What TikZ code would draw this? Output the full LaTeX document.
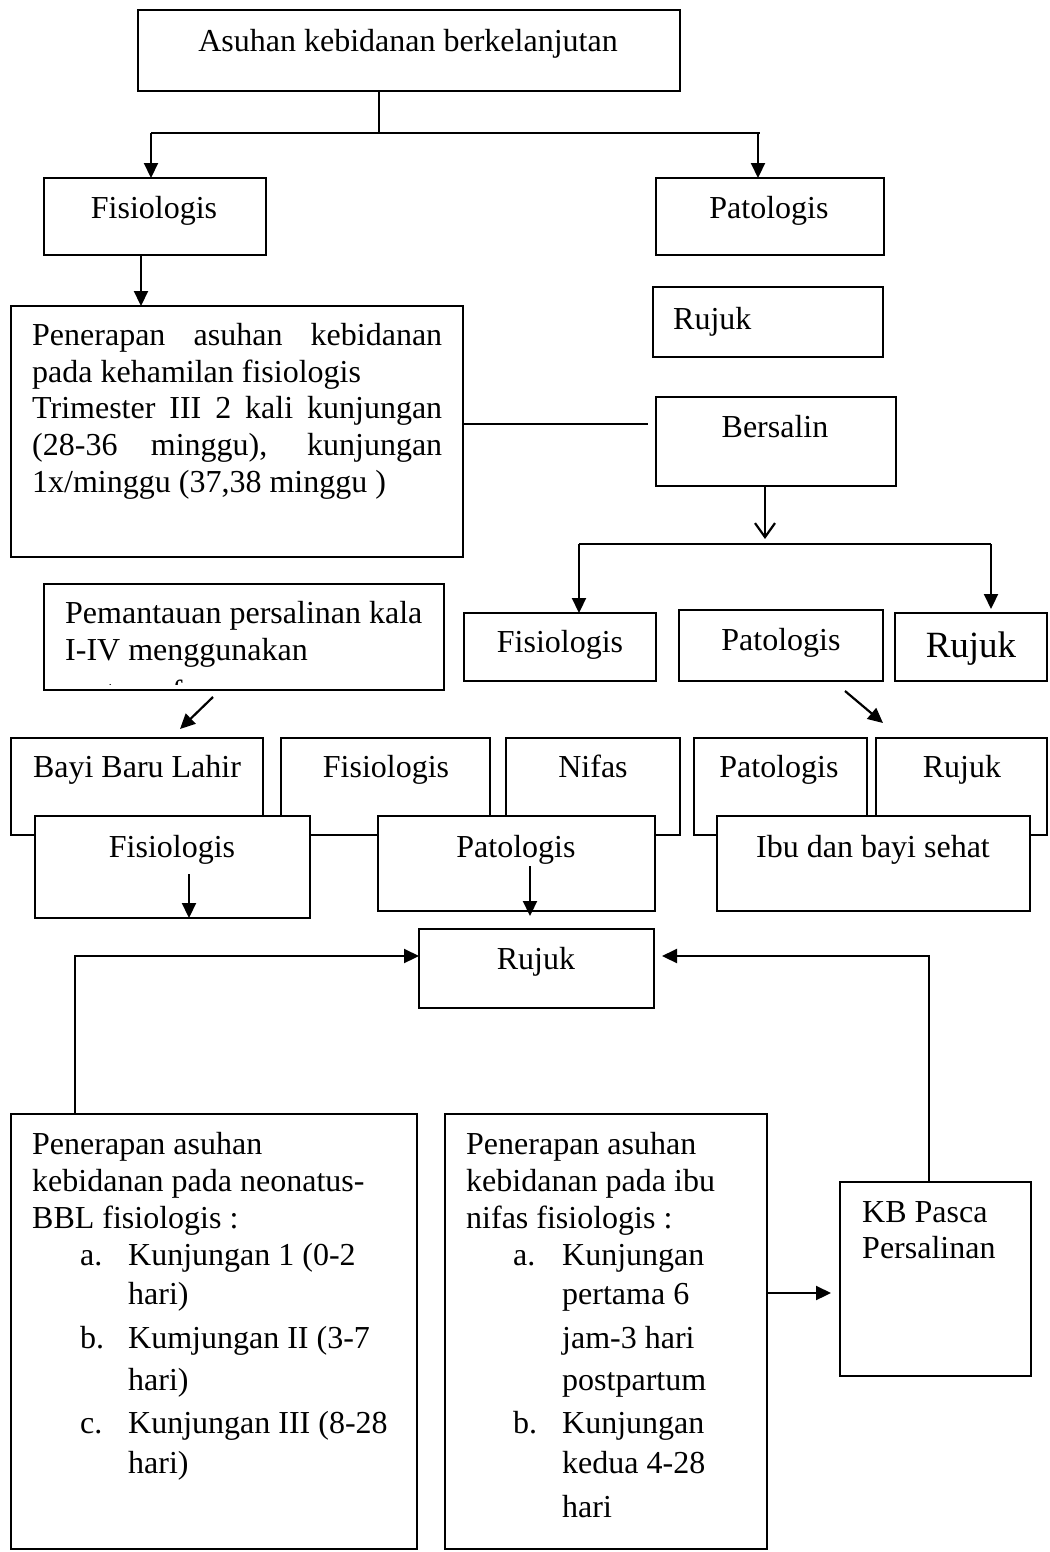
\documentclass[tikz,border=0pt]{standalone}
\usepackage{fontspec}
\setmainfont{Liberation Serif}
\usetikzlibrary{arrows.meta}
\newcommand\mybox[5]{\node[bx, minimum width={(#4-#2)*1pt}, minimum height={(#5-#3)*1pt}] (#1) at (#2,#3) {};}
\tikzset{
  bx/.style={draw, line width=2.2pt, fill=white, inner sep=0pt, outer sep=0pt, anchor=north west},
  ln/.style={line width=2.2pt},
  arr/.style={line width=2.2pt, -{Triangle[length=15pt,width=14pt]}},
  oarr/.style={line width=2.2pt, -{Straight Barb[length=14pt,width=20pt,line width=2.2pt]}},
  txt/.style={inner sep=0pt, anchor=base},
  txtl/.style={inner sep=0pt, anchor=base west}
}
\begin{document}
\begin{tikzpicture}[x=1pt, y=-1pt, font=\fontsize{32}{38}\selectfont]
\useasboundingbox (0,0) rectangle (1049,1552);
\fill[white] (0,0) rectangle (1049,1552);

% top section
\mybox{top}{138}{10}{680}{91}
\node[txt] (ttop) at (408,52) {Asuhan kebidanan berkelanjutan};
\mybox{fisA}{44}{178}{266}{255}
\node[txt] (tfisA) at (154,218) {Fisiologis};
\mybox{patA}{656}{178}{884}{255}
\node[txt] (tpatA) at (769,218) {Patologis};

\coordinate (s1) at (379,133);
\coordinate (s1l) at (151,133);
\coordinate (s1r) at (760,133);
\draw[ln] (379,0 |- top.south) -- (s1);
\draw[ln] (s1l) -- (s1r);
\draw[arr] (s1l) -- (151,0 |- fisA.north);
\draw[arr] (758,133) -- (758,0 |- patA.north);

% big box
\mybox{big}{11}{306}{463}{557}
\draw[arr] (141,0 |- fisA.south) -- (141,0 |- big.north);
\node[txtl] (b1) at (32,345) {\makebox[410pt][s]{Penerapan asuhan kebidanan}};
\node[txtl] (b2) at (32,382) {pada kehamilan fisiologis};
\node[txtl] (b3) at (32,418) {\makebox[410pt][s]{Trimester III 2 kali kunjungan}};
\node[txtl] (b4) at (32,455) {\makebox[410pt][s]{(28-36 minggu), kunjungan}};
\node[txtl] (b5) at (32,492) {1x/minggu (37,38 minggu )};

\mybox{rujA}{653}{287}{883}{357}
\node[txtl] (trujA) at (673,329) {Rujuk};
\mybox{bers}{656}{397}{896}{486}
\node[txt] (tbers) at (775,437) {Bersalin};
\coordinate (bersend) at (648,424);
\draw[ln] (big.east |- bersend) -- (bersend);

% bersalin split
\coordinate (s2) at (765,539);
\coordinate (s2l) at (579,544);
\coordinate (s2r) at (991,544);
\draw[oarr] (765,0 |- bers.south) -- (s2);
\draw[ln] (s2l) -- (s2r);

\mybox{fisB}{464}{613}{656}{681}
\node[txt] (tfisB) at (560,652) {Fisiologis};
\mybox{patB}{679}{610}{883}{681}
\node[txt] (tpatB) at (781,650) {Patologis};
\mybox{rujB}{895}{613}{1047}{681}
\node[txt, font=\fontsize{37}{42}\selectfont] (trujB) at (971,657) {Rujuk};
\draw[arr] (s2l) -- (579,0 |- fisB.north);
\draw[arr] (s2r) -- (991,609);

% pemantauan
\mybox{pem}{44}{584}{444}{690}
\node[txtl] (p1) at (65,623) {Pemantauan persalinan kala};
\node[txtl] (p2) at (65,660) {I-IV menggunakan};
\begin{scope}
\clip (46,600) rectangle (442,684.5);
\node[txtl] (p3) at (65,702) {partograf};
\end{scope}
\coordinate (pa1) at (213,697);
\coordinate (pa2) at (180,729);
\draw[arr] (pa1) -- (pa2);
\coordinate (pb1) at (845,691);
\coordinate (pb2) at (883,723);
\draw[arr] (pb1) -- (pb2);

% row 3
\mybox{bayi}{11}{738}{263}{835}
\node[txt] (tbayi) at (137,777) {Bayi Baru Lahir};
\mybox{fisC}{281}{738}{490}{835}
\node[txt] (tfisC) at (386,777) {Fisiologis};
\mybox{nifas}{506}{738}{680}{835}
\node[txt] (tnifas) at (593,777) {Nifas};
\mybox{patC}{694}{738}{867}{835}
\node[txt] (tpatC) at (779,777) {Patologis};
\mybox{rujC}{876}{738}{1047}{835}
\node[txt] (trujC) at (962,777) {Rujuk};

% row 4
\mybox{fisD}{35}{816}{310}{918}
\node[txt] (tfisD) at (172,857) {Fisiologis};
\mybox{patD}{378}{816}{655}{911}
\node[txt] (tpatD) at (516,857) {Patologis};
\mybox{ibu}{717}{816}{1030}{911}
\node[txt] (tibu) at (873,857) {Ibu dan bayi sehat};
\draw[arr] (189,874) -- (189,0 |- fisD.south);
\draw[arr] (530,866) -- (530,916);

% rujuk bottom
\mybox{rujD}{419}{929}{654}{1008}
\node[txt] (trujD) at (536,969) {Rujuk};

% bottom boxes
\mybox{bl}{11}{1114}{417}{1549}
\mybox{mid}{445}{1114}{767}{1549}
\mybox{kb}{840}{1182}{1031}{1376}

\node[txtl] (l1) at (32,1154) {Penerapan asuhan};
\node[txtl] (l2) at (32,1191) {kebidanan pada neonatus-};
\node[txtl] (l3) at (32,1228) {BBL fisiologis :};
\node[txtl] (la) at (80,1265) {a.};
\node[txtl] (la1) at (128,1265) {Kunjungan 1 (0-2};
\node[txtl] (la2) at (128,1304) {hari)};
\node[txtl] (lb) at (80,1348) {b.};
\node[txtl] (lb1) at (128,1348) {Kumjungan II (3-7};
\node[txtl] (lb2) at (128,1390) {hari)};
\node[txtl] (lc) at (80,1433) {c.};
\node[txtl] (lc1) at (128,1433) {Kunjungan III (8-28};
\node[txtl] (lc2) at (128,1473) {hari)};

\node[txtl] (m1) at (466,1154) {Penerapan asuhan};
\node[txtl] (m2) at (466,1191) {kebidanan pada ibu};
\node[txtl] (m3) at (466,1228) {nifas fisiologis :};
\node[txtl] (ma) at (513,1265) {a.};
\node[txtl] (ma1) at (562,1265) {Kunjungan};
\node[txtl] (ma2) at (562,1304) {pertama 6};
\node[txtl] (ma3) at (562,1348) {jam-3 hari};
\node[txtl] (ma4) at (562,1390) {postpartum};
\node[txtl] (mb) at (513,1433) {b.};
\node[txtl] (mb1) at (562,1433) {Kunjungan};
\node[txtl] (mb2) at (562,1473) {kedua 4-28};
\node[txtl] (mb3) at (562,1517) {hari};

\node[txtl] (k1) at (862,1222) {KB Pasca};
\node[txtl] (k2) at (862,1258) {Persalinan};

% connectors to rujuk
\coordinate (rl) at (75,956);
\coordinate (rr) at (929,956);
\coordinate (rrtip) at (662,956);
\coordinate (kbend) at (831,1293);
\draw[arr] (75,0 |- bl.north) -- (rl) -- (rujD.west |- rl);
\draw[arr] (929,0 |- kb.north) -- (rr) -- (rrtip);
\draw[arr] (mid.east |- kbend) -- (kbend);
\end{tikzpicture}
\end{document}
